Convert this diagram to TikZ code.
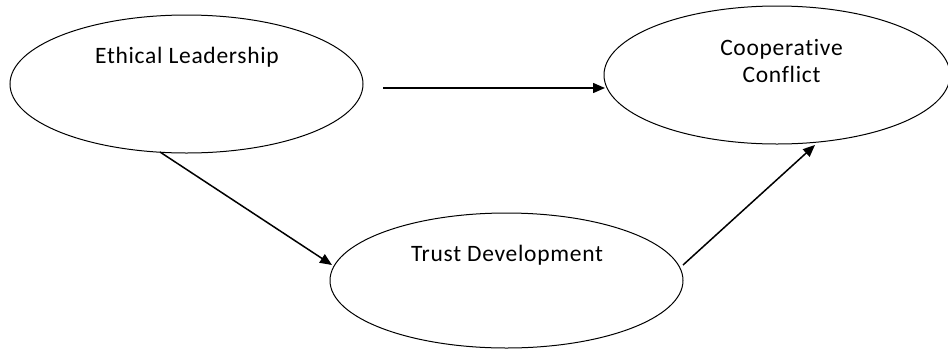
\documentclass[tikz,border=0pt]{standalone}
\usepackage{fontspec}
\setmainfont{Carlito}[LetterSpace=3,Ligatures={NoCommon}]
\usetikzlibrary{shapes.geometric,arrows.meta}
\begin{document}
\begin{tikzpicture}[x=1pt,y=-1pt,
  oval/.style={draw,ellipse,line width=1pt,inner sep=0pt},
  lbl/.style={font=\fontsize{23.5}{26.6}\selectfont,align=center,inner sep=0pt,anchor=base},
  conn/.style={line width=1.5pt,-{Triangle[length=12pt,width=10pt]}}]
\useasboundingbox (0,0) rectangle (948,349);
\clip (0,0) rectangle (948,349);
\node[oval,minimum width=353pt,minimum height=138pt] (el) at (186.5,84) {};
\node[oval,minimum width=346pt,minimum height=138pt] (cc) at (777,75) {};
\node[oval,minimum width=353pt,minimum height=135pt] (td) at (506.5,280.5) {};
\node[lbl] (elt) at (187,63.3) {Ethical Leadership};
\node[lbl] (cct1) at (781.5,55.7) {Cooperative};
\node[lbl] (cct2) at (781.5,82.3) {Conflict};
\node[lbl] (tdt) at (507,261.7) {Trust Development};
\coordinate (a1) at (383,88);
\coordinate (a2) at (605,88);
\coordinate (b1) at (160,152);
\coordinate (b2) at (332,265);
\coordinate (c1) at (683,265);
\coordinate (c2) at (815,145);
\draw[conn] (a1) -- (a2);
\draw[conn] (b1) -- (b2);
\draw[conn] (c1) -- (c2);
\end{tikzpicture}
\end{document}
